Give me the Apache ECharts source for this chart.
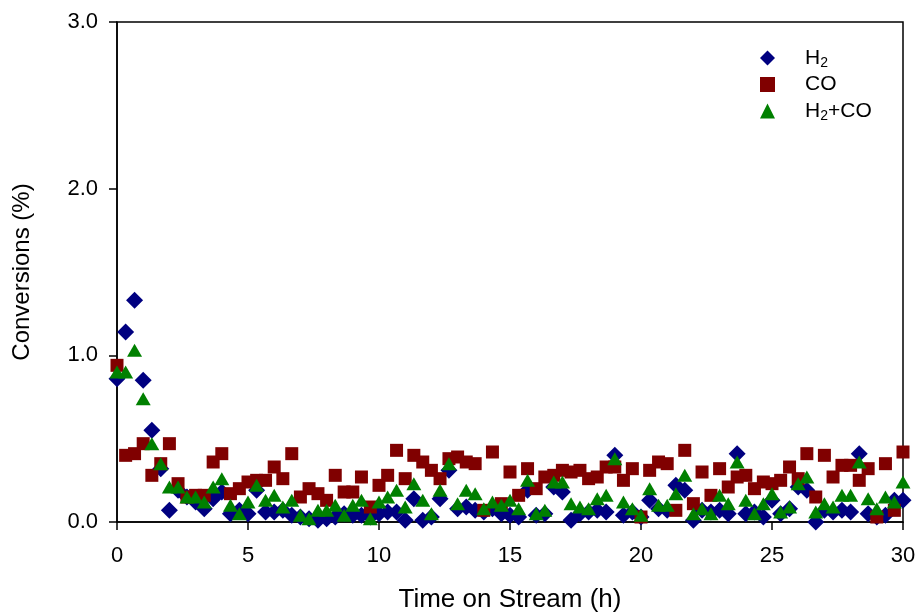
<!DOCTYPE html>
<html>
<head>
<meta charset="utf-8">
<script src="https://cdn.jsdelivr.net/npm/echarts@6/dist/echarts.min.js"></script>
<style>html,body{margin:0;padding:0;background:#fff}#c{width:923px;height:614px}</style>
</head>
<body>
<div id="c"></div>
<script>
var times = [0,0.33,0.67,1,1.33,1.67,2,2.33,2.67,3,3.33,3.67,4,4.33,4.67,5,5.33,5.67,6,6.33,6.67,7,7.33,7.67,8,8.33,8.67,9,9.33,9.67,10,10.33,10.67,11,11.33,11.67,12,12.33,12.67,13,13.33,13.67,14,14.33,14.67,15,15.33,15.67,16,16.33,16.67,17,17.33,17.67,18,18.33,18.67,19,19.33,19.67,20,20.33,20.67,21,21.33,21.67,22,22.33,22.67,23,23.33,23.67,24,24.33,24.67,25,25.33,25.67,26,26.33,26.67,27,27.33,27.67,28,28.33,28.67,29,29.33,29.67,30];
var h2 = [0.86,1.14,1.33,0.85,0.55,0.32,0.07,0.19,0.15,0.12,0.08,0.14,0.18,0.05,0.07,0.05,0.19,0.06,0.06,0.07,0.04,0.03,0.02,0.01,0.02,0.03,0.05,0.04,0.04,0.03,0.05,0.06,0.06,0.01,0.14,0.01,0.03,0.14,0.31,0.08,0.09,0.07,0.06,0.08,0.05,0.04,0.03,0.19,0.04,0.05,0.21,0.18,0.01,0.05,0.06,0.07,0.06,0.40,0.04,0.06,0.03,0.13,0.08,0.07,0.22,0.19,0.01,0.07,0.06,0.07,0.05,0.41,0.05,0.06,0.03,0.13,0.05,0.08,0.21,0.19,0.00,0.07,0.06,0.07,0.06,0.41,0.05,0.03,0.04,0.13,0.13];
var co = [0.94,0.40,0.41,0.47,0.28,0.35,0.47,0.23,0.15,0.16,0.16,0.36,0.41,0.17,0.20,0.24,0.25,0.25,0.33,0.26,0.41,0.15,0.20,0.17,0.13,0.28,0.18,0.18,0.27,0.09,0.22,0.28,0.43,0.26,0.40,0.36,0.31,0.26,0.38,0.39,0.36,0.35,0.07,0.42,0.11,0.30,0.16,0.32,0.20,0.27,0.28,0.31,0.30,0.31,0.26,0.27,0.33,0.33,0.25,0.32,0.03,0.31,0.36,0.35,0.07,0.43,0.11,0.30,0.16,0.32,0.21,0.27,0.28,0.20,0.24,0.23,0.25,0.33,0.26,0.41,0.15,0.40,0.27,0.34,0.34,0.25,0.32,0.03,0.35,0.07,0.42];
var h2co = [0.90,0.90,1.03,0.74,0.47,0.35,0.21,0.21,0.15,0.15,0.12,0.21,0.26,0.10,0.05,0.12,0.22,0.13,0.16,0.09,0.13,0.04,0.02,0.07,0.07,0.10,0.04,0.10,0.13,0.02,0.12,0.15,0.19,0.09,0.23,0.13,0.05,0.19,0.35,0.11,0.19,0.17,0.08,0.12,0.10,0.13,0.08,0.25,0.05,0.07,0.24,0.24,0.11,0.09,0.08,0.14,0.16,0.38,0.12,0.08,0.04,0.20,0.10,0.10,0.17,0.28,0.05,0.08,0.05,0.16,0.11,0.36,0.13,0.05,0.11,0.17,0.06,0.09,0.23,0.27,0.06,0.11,0.09,0.16,0.16,0.36,0.14,0.08,0.15,0.12,0.24];
var xTicks = [0,5,10,15,20,25,30];
var yTicks = ['0.0','1.0','2.0','3.0'];

function pairs(ys){ return times.map(function(t,i){ return [t, ys[i]]; }); }
var FONT = 'Liberation Sans, Arial, sans-serif';
var chart = echarts.init(document.getElementById('c'), null, {renderer:'canvas'});
chart.setOption({
  animation: false,
  backgroundColor: '#fff',
  grid: {left:117, right:20, top:22, bottom:92, outerBoundsMode:'none', containLabel:false, show:true, borderColor:'#000', borderWidth:1.5, backgroundColor:'transparent'},
  legend: {
    left: 755, top: 41, orient: 'vertical', itemWidth: 15, itemHeight: 15, itemGap: 4,
    symbolKeepAspect: true,
    data: [
      {name:'H2', icon:'diamond', itemStyle:{color:'#000080'}},
      {name:'CO', icon:'rect', itemStyle:{color:'#800000'}},
      {name:'H2+CO', icon:'triangle', itemStyle:{color:'#008000'}}
    ],
    formatter: function(n){
      if(n==='H2') return '{p|}{h|H}{s|2}';
      if(n==='H2+CO') return '{p|}{h|H}{s|2}{h|+CO}';
      return '{p|}{h|CO}';
    },
    textStyle: {fontFamily: FONT, color:'#000', fontSize:21,
      rich: {p:{width:25}, h:{fontFamily:FONT, fontSize:21, color:'#000', lineHeight:22}, s:{fontFamily:FONT, fontSize:14, color:'#000', padding:[10,0,0,0], lineHeight:22}}}
  },
  xAxis: {
    type:'value', min:0, max:30, interval:5,
    name:'Time on Stream (h)', nameLocation:'middle', nameGap:65,
    nameTextStyle:{fontFamily:FONT, fontSize:26, color:'#000'},
    axisLine:{show:true, onZero:false, lineStyle:{color:'#000', width:1.5}},
    axisTick:{show:true, inside:false, length:8, lineStyle:{color:'#000', width:1.5}},
    axisLabel:{fontFamily:FONT, fontSize:22, color:'#000', margin:23,
      formatter:function(v){ return xTicks.indexOf(v)>=0 ? String(v) : ''; }},
    splitLine:{show:false}
  },
  yAxis: {
    type:'value', min:0, max:3, interval:1,
    name:'Conversions (%)', nameLocation:'middle', nameGap:83,
    nameTextStyle:{fontFamily:FONT, fontSize:24, color:'#000'},
    axisLine:{show:true, onZero:false, lineStyle:{color:'#000', width:1.5}},
    axisTick:{show:true, inside:false, length:8, lineStyle:{color:'#000', width:1.5}},
    axisLabel:{fontFamily:FONT, fontSize:22, color:'#000', margin:19,
      formatter:function(v){ return yTicks[Math.round(v)]; }},
    splitLine:{show:false}
  },
  series: [
    {name:'H2', type:'scatter', symbol:'diamond', symbolSize:17, itemStyle:{color:'#000080', opacity:1}, data: pairs(h2)},
    {name:'CO', type:'scatter', symbol:'rect', symbolSize:13, itemStyle:{color:'#800000', opacity:1}, data: pairs(co)},
    {name:'H2+CO', type:'scatter', symbol:'triangle', symbolSize:[15,13], itemStyle:{color:'#008000', opacity:1}, data: pairs(h2co)}
  ]
});
</script>
</body>
</html>
